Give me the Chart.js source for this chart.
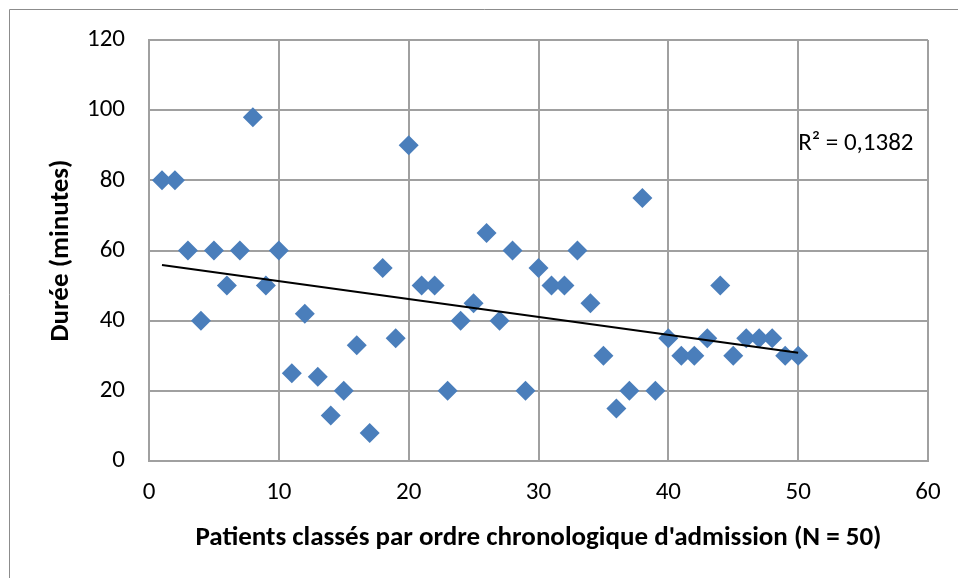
<!DOCTYPE html>
<html lang="fr">
<head>
<meta charset="utf-8">
<title>Durée par patient</title>
<script src="https://cdn.jsdelivr.net/npm/chart.js@4/dist/chart.umd.min.js"></script>
<style>
    html, body { margin: 0; padding: 0; background: #ffffff; }
    #wrap { width: 958px; height: 578px; position: relative; }
</style>
</head>
<body>
<div id="wrap"><canvas id="mainChart" width="958" height="578"></canvas></div>
<script>
"use strict";
// Patient order (x) and duration in minutes (y)
const patientIndex = [
    1, 2, 3, 4, 5, 6, 7, 8, 9, 10,
    11, 12, 13, 14, 15, 16, 17, 18, 19, 20,
    21, 22, 23, 24, 25, 26, 27, 28, 29, 30,
    31, 32, 33, 34, 35, 36, 37, 38, 39, 40,
    41, 42, 43, 44, 45, 46, 47, 48, 49, 50
];
const durations = [
    80, 80, 60, 40, 60, 50, 60, 98, 50, 60,
    25, 42, 24, 13, 20, 33, 8, 55, 35, 90,
    50, 50, 20, 40, 45, 65, 40, 60, 20, 55,
    50, 50, 60, 45, 30, 15, 20, 75, 20, 35,
    30, 30, 35, 50, 30, 35, 35, 35, 30, 30
];
const xTicks = [0, 10, 20, 30, 40, 50, 60];
const yTicks = [0, 20, 40, 60, 80, 100, 120];
const rSquaredLabel = 'R² = 0,1382';
const xTitle = "Patients classés par ordre chronologique d'admission (N = 50)";
const yTitle = 'Durée (minutes)';

const FONT = 'Carlito, Lato, "Open Sans", sans-serif';
const GRID = '#a0a0a0';

// least squares trendline, like the spreadsheet one
function linearFit(xs, ys) {
    const n = xs.length;
    const mx = xs.reduce((a, b) => a + b, 0) / n;
    const my = ys.reduce((a, b) => a + b, 0) / n;
    let sxy = 0, sxx = 0;
    for (let i = 0; i < n; i++) {
        sxy += (xs[i] - mx) * (ys[i] - my);
        sxx += (xs[i] - mx) * (xs[i] - mx);
    }
    const slope = sxy / sxx;
    return { slope, intercept: my - slope * mx };
}

const fit = linearFit(patientIndex, durations);
const xFirst = patientIndex[0];
const xLast = patientIndex[patientIndex.length - 1];
const trendPoints = [
    { x: xFirst, y: fit.intercept + fit.slope * xFirst },
    { x: xLast, y: fit.intercept + fit.slope * xLast }
];

const framePlugin = {
    id: 'frame',
    beforeDraw(chart) {
        const ctx = chart.ctx;
        ctx.save();
        ctx.strokeStyle = '#8c8c8c';
        ctx.lineWidth = 1;
        ctx.beginPath();
        ctx.moveTo(9.5, 600);
        ctx.lineTo(9.5, 9.5);
        ctx.lineTo(980, 9.5);
        ctx.stroke();
        ctx.restore();
    },
    afterDatasetsDraw(chart) {
        const ctx = chart.ctx;
        const xs = chart.scales.x;
        const ys = chart.scales.y;
        ctx.save();
        ctx.fillStyle = '#000000';
        ctx.font = '25px ' + FONT;
        ctx.textAlign = 'left';
        ctx.textBaseline = 'middle';
        ctx.fillText(rSquaredLabel, xs.getPixelForValue(50), ys.getPixelForValue(90.5));
        ctx.restore();
    }
};

new Chart(document.getElementById('mainChart'), {
    type: 'scatter',
    data: {
        datasets: [
            {
                label: 'Durée',
                data: patientIndex.map((x, i) => ({ x, y: durations[i] })),
                pointStyle: 'rectRot',
                pointRadius: 10,
                backgroundColor: '#4a7ebb',
                borderColor: '#4a7ebb',
                borderWidth: 0,
                order: 2
            },
            {
                type: 'line',
                label: 'Tendance',
                data: trendPoints,
                borderColor: '#000000',
                borderWidth: 2,
                pointRadius: 0,
                fill: false,
                order: 1
            }
        ]
    },
    options: {
        responsive: false,
        animation: false,
        layout: {
            padding: { top: 40, right: 30, left: 10, bottom: 0 }
        },
        plugins: {
            legend: { display: false },
            tooltip: { enabled: false }
        },
        scales: {
            x: {
                type: 'linear',
                min: 0,
                max: 60,
                afterBuildTicks: (axis) => { axis.ticks = xTicks.map(v => ({ value: v })); },
                afterFit: (axis) => { axis.height = 578 - 461; },
                grid: { color: GRID, lineWidth: 2, drawTicks: false },
                border: { color: GRID, width: 2 },
                ticks: { color: '#000000', padding: 17, font: { family: FONT, size: 25 } },
                title: {
                    display: true,
                    text: xTitle,
                    color: '#000000',
                    padding: { top: 0, bottom: 24 },
                    font: { family: FONT, size: 27, weight: 'bold' }
                }
            },
            y: {
                type: 'linear',
                min: 0,
                max: 120,
                afterBuildTicks: (axis) => { axis.ticks = yTicks.map(v => ({ value: v })); },
                afterFit: (axis) => { axis.width = 149 - 10; },
                grid: { color: GRID, lineWidth: 2, drawTicks: false },
                border: { color: GRID, width: 2 },
                ticks: { color: '#000000', padding: 24, font: { family: FONT, size: 25 } },
                title: {
                    display: true,
                    text: yTitle,
                    color: '#000000',
                    padding: { top: 35, bottom: 0 },
                    font: { family: FONT, size: 27, weight: 'bold' }
                }
            }
        }
    },
    plugins: [framePlugin]
});
</script>
</body>
</html>
